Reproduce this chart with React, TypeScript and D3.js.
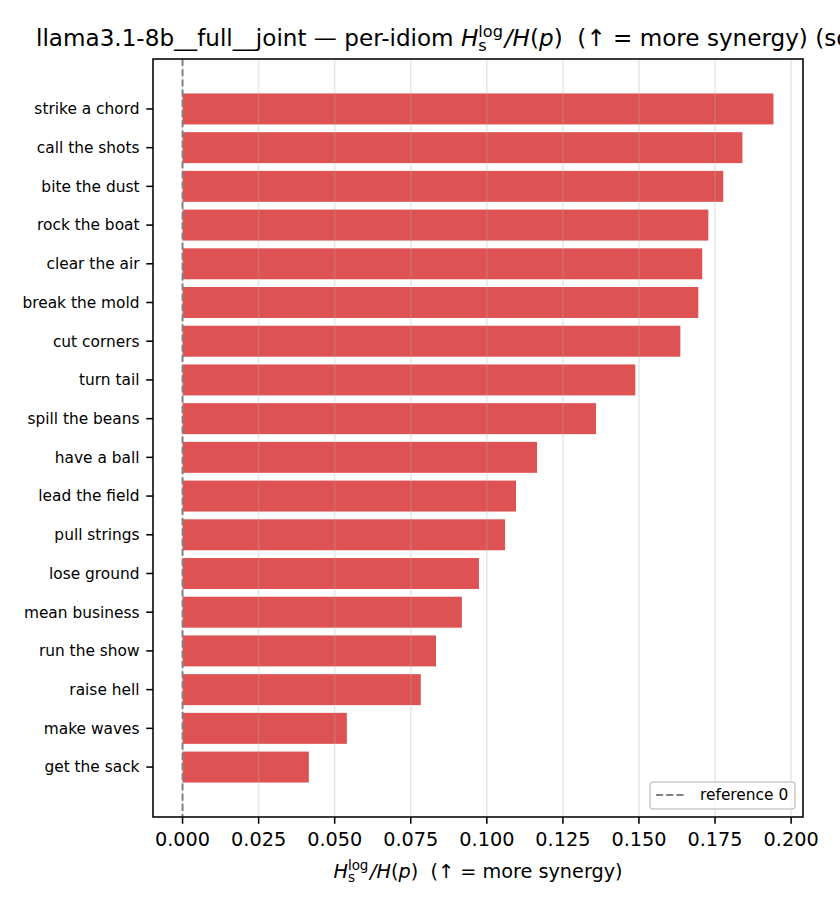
import React from 'react';
import * as d3 from 'd3';

// idioms, top to bottom
const idioms = [
  'strike a chord', 'call the shots', 'bite the dust', 'rock the boat',
  'clear the air', 'break the mold', 'cut corners', 'turn tail',
  'spill the beans', 'have a ball', 'lead the field', 'pull strings',
  'lose ground', 'mean business', 'run the show', 'raise hell',
  'make waves', 'get the sack',
];

const ratios = [
  0.1942, 0.1840, 0.1777, 0.1728, 0.1708, 0.1695, 0.1636, 0.1488,
  0.1359, 0.1165, 0.1096, 0.1060, 0.0974, 0.0918, 0.0833, 0.0783,
  0.0540, 0.0415,
];

const xTicks = [0, 0.025, 0.05, 0.075, 0.1, 0.125, 0.15, 0.175, 0.2];

const W = 840;
const H = 910;
const margin = { top: 59, right: 37, bottom: 93, left: 153 };
const FONT = '"DejaVu Sans", sans-serif';
const PT = 138.6 / 72; // px per point

// H_s^log / H(p) in mathtext style
const MathRatio: React.FC<{ fs: number }> = ({ fs }) => {
  const small = fs * 0.7;
  return (
    <>
      <tspan fontStyle="italic">H</tspan>
      <tspan fontSize={small} dy={fs * 0.22}>s</tspan>
      <tspan fontSize={small} dx={-small * 0.521} dy={-fs * 0.62}>log</tspan>
      <tspan fontStyle="italic" dx={fs * 0.08} dy={fs * 0.4}>/H</tspan>
      <tspan>(</tspan>
      <tspan fontStyle="italic">p</tspan>
      <tspan>)</tspan>
    </>
  );
};

export default function App() {
  const n = idioms.length;
  const xMax = d3.max(ratios)!;
  const x = d3
    .scaleLinear()
    .domain([-xMax * 0.05, xMax * 1.05])
    .range([margin.left, W - margin.right]);

  const pad = 0.05 * (n - 1 + 0.8);
  const y = d3
    .scaleLinear()
    .domain([-0.4 - pad, n - 1 + 0.4 + pad])
    .range([margin.top, H - margin.bottom]);

  const top = margin.top;
  const bottom = H - margin.bottom;
  const left = margin.left;
  const right = W - margin.right;
  const fmt = d3.format('.3f');
  const tickLen = 3.5 * PT;
  const dash = `${3.7 * PT},${1.6 * PT}`;

  return (
    <svg
      width={W}
      height={H}
      style={{ position: 'absolute', left: 0, top: 0, background: '#fff' }}
      fontFamily={FONT}
    >
      <defs>
        <clipPath id="plot">
          <rect x={left} y={top} width={right - left} height={bottom - top} />
        </clipPath>
      </defs>

      {/* bars */}
      <g>
        {ratios.map((v, i) => (
          <rect
            key={idioms[i]}
            x={x(0)}
            y={y(i - 0.4)}
            width={x(v) - x(0)}
            height={y(i + 0.4) - y(i - 0.4)}
            fill="#d62728"
            fillOpacity={0.8}
          />
        ))}
      </g>

      {/* grid above the bars, like matplotlib */}
      <g clipPath="url(#plot)">
        {xTicks.map(t => (
          <line
            key={t}
            x1={x(t)}
            x2={x(t)}
            y1={top}
            y2={bottom}
            stroke="#b0b0b0"
            strokeOpacity={0.3}
            strokeWidth={0.8 * PT}
          />
        ))}
      </g>

      {/* reference line at 0 */}
      <line
        x1={x(0)}
        x2={x(0)}
        y1={top}
        y2={bottom}
        stroke="#808080"
        strokeWidth={PT}
        strokeDasharray={dash}
      />

      {/* spines */}
      <rect
        x={left}
        y={top}
        width={right - left}
        height={bottom - top}
        fill="none"
        stroke="#000"
        strokeWidth={0.8 * PT}
      />

      {/* x ticks */}
      {xTicks.map(t => (
        <g key={t} transform={`translate(${x(t)},${bottom})`}>
          <line y2={tickLen} stroke="#000" strokeWidth={0.8 * PT} />
          <text y={29} textAnchor="middle" fontSize={10 * PT} fill="#000">
            {fmt(t)}
          </text>
        </g>
      ))}

      {/* y ticks */}
      {idioms.map((d, i) => (
        <g key={d} transform={`translate(${left},${y(i)})`}>
          <line x2={-tickLen} stroke="#000" strokeWidth={0.8 * PT} />
          <text x={-2 * tickLen} dy="0.35em" textAnchor="end" fontSize={8 * PT} fill="#000">
            {d}
          </text>
        </g>
      ))}

      {/* x label */}
      <text
        x={(left + right) / 2}
        y={878}
        textAnchor="middle"
        fontSize={10 * PT}
        fill="#000"
        style={{ whiteSpace: 'pre' }}
      >
        <MathRatio fs={10 * PT} />
        <tspan>{'  (↑ = more synergy)'}</tspan>
      </text>

      {/* title */}
      <text x={36} y={46} fontSize={12 * PT} fill="#000" style={{ whiteSpace: 'pre' }}>
        <tspan>{'llama3.1-8b__full__joint — per-idiom '}</tspan>
        <MathRatio fs={12 * PT} />
        <tspan>{'  (↑ = more synergy) (sorted)'}</tspan>
      </text>

      {/* legend */}
      <g>
        <rect
          x={650}
          y={782}
          width={145}
          height={27}
          rx={3}
          fill="#fff"
          fillOpacity={0.8}
          stroke="#cccccc"
          strokeWidth={0.8 * PT}
        />
        <line
          x1={656}
          x2={685}
          y1={795}
          y2={795}
          stroke="#808080"
          strokeWidth={PT}
          strokeDasharray={dash}
        />
        <text x={700} y={800} fontSize={8 * PT} fill="#000">
          reference 0
        </text>
      </g>
    </svg>
  );
}
